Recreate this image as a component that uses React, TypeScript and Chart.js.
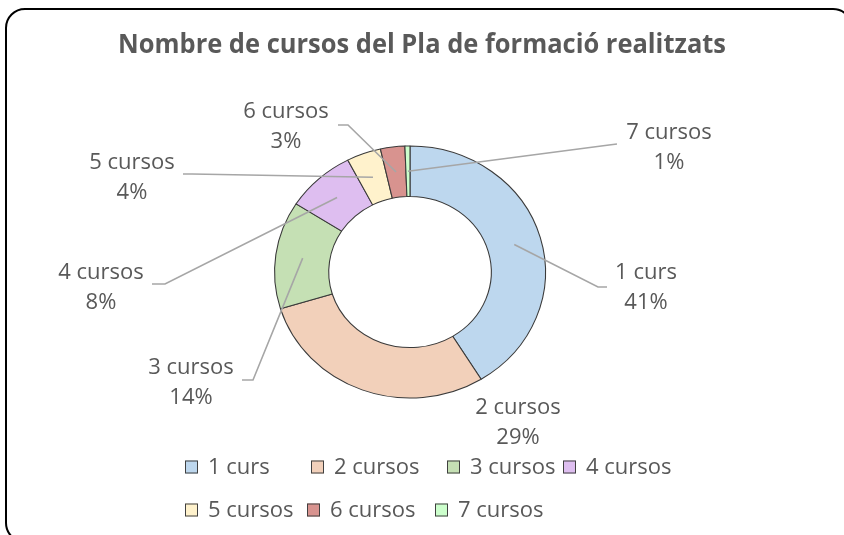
import { useEffect, useRef } from "react";
import { Chart, registerables } from "chart.js";

Chart.register(...registerables);

const TITLE = "Nombre de cursos del Pla de formació realitzats";
const CATEGORIES = ["1 curs", "2 cursos", "3 cursos", "4 cursos", "5 cursos", "6 cursos", "7 cursos"];
const VALUES = [41.2, 29.1, 13.8, 8.3, 4.1, 2.9, 0.6];
const COLORS = ["#BDD7EE", "#F2D0BA", "#C5E0B4", "#DEBEF0", "#FFF2CC", "#D8938F", "#CCFFCC"];

// the reference ring is slightly wider than tall
const STRETCH_X = 1.075;

// label layout, relative to the doughnut centre: text block centre (dx, dy),
// leader line outer end and elbow (relative as well) or null
const LABEL_LAYOUT: { dx: number; dy: number; leader: number[] | null }[] = [
  { dx: 236, dy: 15, leader: [197, 15, 188, 15] },
  { dx: 108, dy: 150, leader: null },
  { dx: -219, dy: 110, leader: [-168, 108, -157, 108] },
  { dx: -309, dy: 15, leader: [-258, 12, -245, 12] },
  { dx: -278, dy: -95, leader: [-227, -98, -218, -98] },
  { dx: -124, dy: -146, leader: [-72, -147, -62, -147] },
  { dx: 259, dy: -125, leader: [207, -128, 199, -127] },
];

// legend layout
const LEGEND_ROWS = [
  { y: 467, items: [0, 1, 2, 3], xs: [185, 311, 447, 563] },
  { y: 510, items: [4, 5, 6], xs: [185, 307, 435] },
];

const TEXT_COLOR = "#595959";
const FONT = '"Open Sans", sans-serif';

const decorPlugin = {
  id: "decor",
  beforeDatasetsDraw(chart: any) {
    const meta = chart.getDatasetMeta(0);
    const cx = meta.data[0].x;
    const cy = meta.data[0].y;
    const ctx: CanvasRenderingContext2D = chart.ctx;
    ctx.save();
    ctx.translate(cx, cy);
    ctx.scale(STRETCH_X, 1);
    ctx.translate(-cx, -cy);
  },
  afterDatasetsDraw(chart: any) {
    const ctx: CanvasRenderingContext2D = chart.ctx;
    ctx.restore();
    const meta = chart.getDatasetMeta(0);
    const data: number[] = chart.data.datasets[0].data;
    const total = data.reduce((a, b) => a + b, 0);
    const cx = meta.data[0].x;
    const cy = meta.data[0].y;
    ctx.save();
    // leader lines
    ctx.strokeStyle = "#A6A6A6";
    ctx.lineWidth = 1.6;
    meta.data.forEach((arc: any, i: number) => {
      const lay = LABEL_LAYOUT[i];
      if (!lay.leader) return;
      const p = arc.getCenterPoint();
      const px = cx + (p.x - cx) * STRETCH_X;
      ctx.beginPath();
      ctx.moveTo(px, p.y);
      ctx.lineTo(cx + lay.leader[2], cy + lay.leader[3]);
      ctx.lineTo(cx + lay.leader[0], cy + lay.leader[1]);
      ctx.stroke();
    });
    // labels
    ctx.fillStyle = TEXT_COLOR;
    ctx.font = `22px ${FONT}`;
    ctx.textAlign = "center";
    ctx.textBaseline = "middle";
    meta.data.forEach((_arc: any, i: number) => {
      const lay = LABEL_LAYOUT[i];
      const x = cx + lay.dx;
      const y = cy + lay.dy;
      const pct = Math.round((data[i] / total) * 100) + "%";
      ctx.fillText(chart.data.labels[i], x, y - 14.5);
      ctx.fillText(pct, x, y + 16);
    });
    // title
    ctx.font = `bold 26px ${FONT}`;
    ctx.fillText(TITLE, chart.width / 2, 46, 608);
    // legend
    ctx.font = `22px ${FONT}`;
    ctx.textAlign = "left";
    const bg = chart.data.datasets[0].backgroundColor;
    LEGEND_ROWS.forEach((row) => {
      row.items.forEach((idx, k) => {
        const x = row.xs[k];
        ctx.fillStyle = bg[idx];
        ctx.fillRect(x, row.y - 6.5, 13, 13);
        ctx.strokeStyle = "#404040";
        ctx.lineWidth = 1;
        ctx.strokeRect(x + 0.5, row.y - 6, 12, 12);
        ctx.fillStyle = TEXT_COLOR;
        ctx.fillText(chart.data.labels[idx], x + 23, row.y + 1);
      });
    });
    ctx.restore();
  },
};

export default function App() {
  const ref = useRef<HTMLCanvasElement | null>(null);
  useEffect(() => {
    if (!ref.current) return;
    const chart = new Chart(ref.current, {
      type: "doughnut",
      data: {
        labels: CATEGORIES,
        datasets: [
          {
            data: VALUES,
            backgroundColor: COLORS,
            borderColor: "#3A3A3A",
            borderWidth: 1,
          },
        ],
      },
      options: {
        animation: false,
        responsive: true,
        maintainAspectRatio: false,
        events: [],
        radius: 126,
        cutout: "60%",
        layout: { padding: { left: 0, right: 24, top: 9, bottom: 0 } },
        plugins: {
          legend: { display: false },
          title: { display: false },
          tooltip: { enabled: false },
        },
      } as any,
      plugins: [decorPlugin],
    });
    return () => chart.destroy();
  }, []);
  return (
    <div
      style={{
        position: "fixed",
        left: 0,
        top: 0,
        width: 844,
        height: 535,
        overflow: "hidden",
        background: "#fff",
      }}
    >
      <div
        style={{
          position: "absolute",
          left: 5,
          top: 8,
          width: 848,
          height: 535,
          border: "2px solid #000",
          borderRadius: 20,
          boxSizing: "border-box",
        }}
      />
      <div style={{ position: "absolute", left: 0, top: 0, width: 844, height: 535 }}>
        <canvas ref={ref} />
      </div>
    </div>
  );
}
